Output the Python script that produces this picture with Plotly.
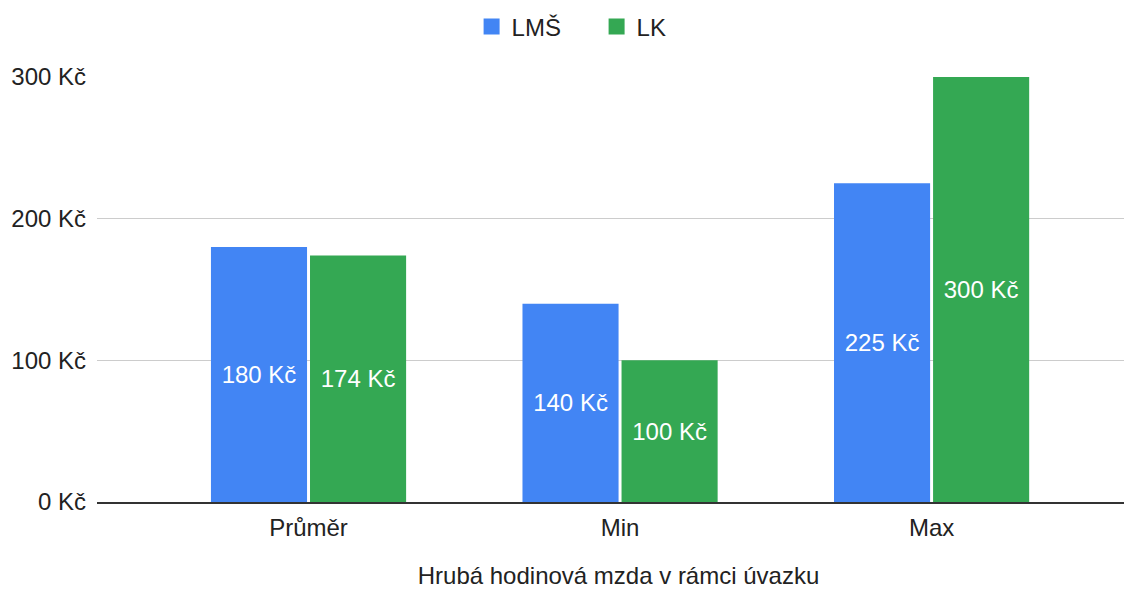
import plotly.graph_objects as go

categories = ["Průměr", "Min", "Max"]
lms_values = [180, 140, 225]
lk_values = [174, 100, 300]
series_names = ["LMŠ", "LK"]
tick_values = [0, 100, 200, 300]
tick_labels = [f"{v} Kč" for v in tick_values]
x_title = "Hrubá hodinová mzda v rámci úvazku"
colors = ["#4285F4", "#34A853"]

FONT = "Liberation Sans, Arial, sans-serif"
FS = 24

fig = go.Figure()
for name, vals, color in zip(series_names, [lms_values, lk_values], colors):
    fig.add_trace(go.Bar(
        x=categories, y=vals, name=name, showlegend=False,
        marker=dict(color=color, line=dict(width=0)),
        text=[f"{v} Kč" for v in vals],
        textposition="inside", insidetextanchor="middle",
        textfont=dict(color="white", size=FS, family=FONT),
        textangle=0,
    ))
# legend entries with larger square swatches
for name, color in zip(series_names, colors):
    fig.add_trace(go.Scatter(
        x=[None], y=[None], mode="markers", name=name,
        marker=dict(symbol="square", size=20, color=color),
    ))

fig.update_layout(
    width=1132, height=593,
    margin=dict(l=89, r=0, t=69, b=99, autoexpand=False),
    paper_bgcolor="white", plot_bgcolor="white",
    barmode="group", bargap=0.364, bargroupgap=0.03,
    font=dict(family=FONT, size=FS, color="#222222"),
    showlegend=True,
    legend=dict(orientation="h", x=0.479, xanchor="center",
                yref="container", y=0.968, yanchor="middle",
                font=dict(size=FS, color="#222222"), itemsizing="trace", itemwidth=30,
                entrywidth=80, entrywidthmode="pixels"),
    xaxis=dict(range=[-0.679, 2.669], showgrid=False, showline=True,
               linecolor="#333333", linewidth=1.5, ticks="", ticklabelstandoff=3,
               tickfont=dict(size=FS, color="#222222"),
               title=dict(text=x_title, font=dict(size=FS, color="#222222"), standoff=28)),
    yaxis=dict(range=[0, 300], tickvals=tick_values, ticktext=tick_labels,
               showgrid=True, gridcolor="#cccccc", gridwidth=1, zeroline=False,
               showline=False, ticks="", ticklabelstandoff=10,
               tickfont=dict(size=FS, color="#222222")),
)

fig.write_html("out.html")
